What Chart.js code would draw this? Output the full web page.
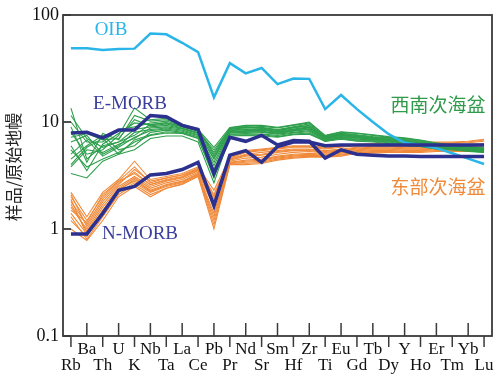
<!DOCTYPE html>
<html>
<head>
<meta charset="utf-8">
<script src="https://cdn.jsdelivr.net/npm/chart.js@4.4.1/dist/chart.umd.min.js"></script>
<style>
  html, body { margin: 0; padding: 0; background: #fff; }
  #wrap { width: 500px; height: 380px; }
</style>
</head>
<body>
<div id="wrap"><canvas id="spider" width="500" height="380"></canvas></div>
<script>
// element order on the x axis
const elements = ['Rb', 'Ba', 'Th', 'U', 'K', 'Nb', 'Ta', 'La', 'Ce', 'Pb', 'Pr', 'Nd', 'Sr', 'Sm',
    'Hf', 'Zr', 'Ti', 'Eu', 'Gd', 'Tb', 'Dy', 'Y', 'Ho', 'Er', 'Tm', 'Yb', 'Lu'];
const yTicks = [0.1, 1, 10, 100];

// reference curves (sample / primitive mantle)
const oib = [49, 49, 47, 48, 48.5, 67, 66, 55, 45, 17, 35.5, 28.5, 32, 22.6, 25.5, 25.3, 13.2, 17.9,
    13.2, 10.0, 7.7, 6.4, 6.1, 5.7, 5.1, 4.55, 4.05];
const eMorb = [7.9, 8.0, 7.1, 8.4, 8.4, 11.5, 11.2, 9.3, 8.5, 3.3, 7.2, 6.6, 7.5, 6.1, 6.7, 6.6, 4.6, 5.5,
    5.0, 4.9, 4.8, 4.8, 4.75, 4.75, 4.75, 4.75, 4.75];
const nMorb = [0.9, 0.9, 1.4, 2.3, 2.5, 3.2, 3.3, 3.6, 4.2, 1.65, 4.9, 5.4, 4.2, 5.9, 6.5, 6.5, 6.0, 6.1,
    6.1, 6.1, 6.1, 6.1, 6.1, 6.1, 6.1, 6.1, 6.1];

// 西南次海盆 samples
const westSamples = [
    [13.5, 4.5, 6.0, 6.5, 7.5, 9.5, 9.8, 9.0, 8.2, 5.5, 8.6, 8.8, 8.9, 8.5, 9.0, 9.6, 7.2, 7.8, 7.5, 7.2, 7.0, 6.8, 6.5, 6.2, 5.9, 5.8, 5.6],
    [3.3, 3.0, 4.3, 5.0, 5.5, 7.0, 7.4, 7.4, 6.5, 2.7, 7.4, 7.5, 7.4, 7.2, 7.6, 7.7, 6.6, 6.9, 6.6, 6.5, 6.3, 6.0, 5.9, 5.6, 5.5, 5.3, 5.2],
    [8.0, 5.0, 5.5, 7.5, 13.5, 10.5, 10.8, 9.5, 8.6, 5.0, 8.8, 9.2, 9.1, 8.8, 9.3, 9.8, 7.4, 8.0, 7.8, 7.5, 7.2, 7.0, 6.7, 6.3, 6.0, 5.9, 5.7],
    [6.5, 7.5, 5.0, 6.0, 8.0, 8.5, 8.8, 8.4, 7.6, 4.2, 8.2, 8.3, 8.4, 8.0, 8.4, 8.8, 7.0, 7.5, 7.2, 7.0, 6.8, 6.5, 6.3, 6.0, 5.8, 5.6, 5.5],
    [4.5, 6.0, 7.5, 5.5, 6.0, 8.0, 8.4, 8.0, 7.3, 3.6, 7.9, 8.0, 8.1, 7.8, 8.2, 8.5, 6.9, 7.3, 7.0, 6.9, 6.6, 6.4, 6.2, 5.9, 5.7, 5.6, 5.4],
    [10.0, 6.5, 6.5, 8.5, 9.0, 9.8, 10.2, 9.2, 8.4, 4.8, 8.5, 8.9, 8.7, 8.3, 8.8, 9.2, 7.3, 7.6, 7.4, 7.1, 6.9, 6.7, 6.4, 6.1, 5.9, 5.7, 5.6],
    [5.5, 3.8, 4.5, 5.2, 6.5, 7.5, 7.9, 7.8, 7.0, 3.2, 7.7, 7.8, 7.7, 7.5, 7.9, 8.1, 6.7, 7.1, 6.8, 6.7, 6.5, 6.2, 6.0, 5.7, 5.6, 5.4, 5.3],
    [7.2, 7.8, 6.8, 7.0, 10.5, 9.2, 9.6, 8.8, 8.0, 4.5, 8.4, 8.6, 8.5, 8.2, 8.6, 9.0, 7.1, 7.7, 7.3, 7.1, 6.9, 6.6, 6.4, 6.1, 5.8, 5.7, 5.5],
    [3.8, 5.5, 5.2, 6.2, 7.0, 8.8, 9.0, 8.6, 7.8, 3.9, 8.1, 8.2, 8.2, 7.9, 8.3, 8.6, 6.9, 7.4, 7.1, 6.9, 6.7, 6.4, 6.2, 5.9, 5.7, 5.6, 5.4],
    [9.0, 4.2, 7.8, 6.8, 11.5, 10.2, 10.5, 9.4, 8.5, 5.8, 8.9, 9.3, 9.3, 8.9, 9.4, 10.0, 7.5, 8.1, 7.9, 7.6, 7.3, 7.1, 6.8, 6.4, 6.1, 5.9, 5.7],
    [5.0, 6.8, 4.8, 5.8, 7.2, 8.3, 8.6, 8.2, 7.5, 3.4, 8.0, 8.1, 8.0, 7.7, 8.0, 8.3, 6.8, 7.2, 6.9, 6.8, 6.6, 6.3, 6.1, 5.8, 5.6, 5.5, 5.3],
    [6.0, 3.5, 6.2, 7.8, 9.8, 9.4, 9.9, 9.1, 8.3, 5.2, 8.7, 9.0, 8.8, 8.4, 8.9, 9.3, 7.3, 7.9, 7.6, 7.3, 7.1, 6.9, 6.6, 6.2, 6.0, 5.8, 5.6],
    [4.0, 5.8, 7.0, 5.0, 6.8, 7.6, 8.1, 7.9, 7.1, 3.0, 7.6, 7.6, 7.6, 7.3, 7.7, 7.9, 6.6, 7.0, 6.7, 6.6, 6.4, 6.1, 5.9, 5.6, 5.5, 5.4, 5.2],
    [11.5, 7.0, 5.8, 6.5, 8.5, 9.0, 9.3, 8.7, 7.9, 4.6, 8.3, 8.5, 8.6, 8.1, 8.5, 8.9, 7.1, 7.6, 7.3, 7.0, 6.8, 6.6, 6.3, 6.0, 5.8, 5.7, 5.5]
];

// 东部次海盆 samples
const eastSamples = [
    [2.2, 1.3, 2.2, 2.9, 4.3, 2.9, 3.1, 3.3, 3.8, 2.3, 4.7, 5.4, 5.6, 5.8, 6.0, 6.0, 5.8, 6.0, 6.2, 6.3, 6.3, 6.3, 6.4, 6.5, 6.5, 6.6, 6.9],
    [1.0, 0.78, 1.2, 2.0, 2.5, 2.0, 2.4, 2.6, 3.1, 1.0, 4.0, 4.0, 4.1, 4.4, 4.6, 4.7, 4.7, 4.8, 5.1, 5.1, 5.2, 5.2, 5.2, 5.3, 5.3, 5.3, 5.3],
    [1.8, 1.1, 1.9, 2.7, 3.4, 2.6, 2.9, 3.1, 3.6, 1.9, 4.5, 5.0, 5.2, 5.4, 5.6, 5.6, 5.4, 5.6, 5.8, 5.9, 5.9, 5.9, 6.0, 6.1, 6.1, 6.2, 6.3],
    [1.4, 0.9, 1.5, 2.3, 2.9, 2.3, 2.6, 2.8, 3.3, 1.4, 4.2, 4.4, 4.5, 4.8, 5.0, 5.1, 5.0, 5.2, 5.4, 5.5, 5.5, 5.6, 5.6, 5.7, 5.7, 5.8, 5.8],
    [2.0, 1.2, 2.0, 2.8, 3.8, 2.7, 3.0, 3.2, 3.7, 2.1, 4.6, 5.2, 5.4, 5.6, 5.8, 5.8, 5.6, 5.8, 6.0, 6.1, 6.1, 6.1, 6.2, 6.3, 6.3, 6.4, 6.6],
    [1.2, 0.85, 1.4, 2.2, 2.7, 2.2, 2.5, 2.7, 3.2, 1.2, 4.1, 4.2, 4.3, 4.6, 4.8, 4.9, 4.8, 5.0, 5.2, 5.3, 5.3, 5.4, 5.4, 5.5, 5.5, 5.5, 5.6],
    [1.6, 1.0, 1.7, 2.5, 3.1, 2.5, 2.8, 3.0, 3.5, 1.7, 4.4, 4.8, 4.9, 5.2, 5.4, 5.4, 5.2, 5.4, 5.6, 5.7, 5.7, 5.8, 5.8, 5.9, 5.9, 6.0, 6.1],
    [2.1, 1.05, 1.8, 2.6, 3.6, 2.8, 3.0, 3.2, 3.6, 2.0, 4.6, 5.3, 5.5, 5.7, 5.9, 5.9, 5.7, 5.9, 6.1, 6.2, 6.2, 6.2, 6.3, 6.4, 6.4, 6.5, 6.8],
    [1.3, 0.8, 1.3, 2.1, 2.6, 2.1, 2.4, 2.65, 3.15, 1.1, 4.05, 4.1, 4.2, 4.5, 4.7, 4.8, 4.75, 4.9, 5.15, 5.2, 5.25, 5.3, 5.3, 5.4, 5.4, 5.4, 5.5],
    [1.7, 0.95, 1.6, 2.4, 3.0, 2.4, 2.7, 2.9, 3.4, 1.6, 4.3, 4.6, 4.7, 5.0, 5.2, 5.3, 5.1, 5.3, 5.5, 5.6, 5.6, 5.7, 5.7, 5.8, 5.8, 5.9, 6.0],
    [1.5, 1.15, 2.1, 2.8, 3.3, 2.6, 2.85, 3.05, 3.55, 1.8, 4.5, 4.9, 5.0, 5.3, 5.5, 5.5, 5.3, 5.5, 5.7, 5.8, 5.8, 5.9, 5.9, 6.0, 6.0, 6.1, 6.2],
    [1.9, 0.88, 1.45, 2.35, 2.8, 2.25, 2.55, 2.75, 3.25, 1.3, 4.15, 4.3, 4.4, 4.7, 4.9, 5.0, 4.9, 5.1, 5.3, 5.4, 5.4, 5.5, 5.5, 5.6, 5.6, 5.7, 5.7]
];

const serif = '"Liberation Serif", "DejaVu Serif", serif';
const cjk = '"Noto Sans CJK SC", sans-serif';

function line(data, color, width, order) {
    return {
        data: data,
        borderColor: color,
        borderWidth: width,
        pointRadius: 0,
        tension: 0,
        fill: false,
        order: order
    };
}

const datasets = [];
datasets.push(line(eMorb, '#2c3190', 3.5, 0));
datasets.push(line(nMorb, '#2c3190', 3.5, 0));
datasets.push(line(oib, '#2ab5e8', 2.5, 1));
westSamples.forEach(function (s) { datasets.push(line(s, '#2e9f4c', 1.1, 2)); });
eastSamples.forEach(function (s) { datasets.push(line(s, '#f08a3a', 1.1, 3)); });

// frame, alternating element ticks, labels
const decor = {
    id: 'decor',
    afterDraw: function (chart) {
        const ctx = chart.ctx;
        const a = chart.chartArea;
        const xs = chart.scales.x;
        const ys = chart.scales.y;
        ctx.save();
        ctx.strokeStyle = '#3a3a3a';
        ctx.lineWidth = 1.8;
        ctx.strokeRect(a.left, a.top, a.right - a.left, a.bottom - a.top);

        // y ticks
        ctx.fillStyle = '#111';
        ctx.font = '18px ' + serif;
        ctx.textAlign = 'right';
        ctx.textBaseline = 'middle';
        yTicks.forEach(function (v) {
            const y = ys.getPixelForValue(v);
            ctx.beginPath();
            ctx.moveTo(a.left, y);
            ctx.lineTo(a.left + 8, y);
            ctx.stroke();
            ctx.fillText(String(v), a.left - 4, y);
        });

        // x ticks, two rows
        ctx.font = '17px ' + serif;
        ctx.textAlign = 'center';
        ctx.lineWidth = 1.5;
        elements.forEach(function (el, i) {
            const x = xs.getPixelForValue(i);
            ctx.beginPath();
            if (i % 2 === 1) {
                ctx.moveTo(x, a.bottom);
                ctx.lineTo(x, a.bottom - 13);
                ctx.stroke();
                ctx.fillText(el, x, a.bottom + 14);
            } else {
                ctx.moveTo(x, a.bottom);
                ctx.lineTo(x, a.bottom + 11);
                ctx.stroke();
                ctx.fillText(el, x, a.bottom + 30);
            }
        });

        // curve labels
        ctx.font = '19px ' + serif;
        ctx.fillStyle = '#2ab5e8';
        ctx.fillText('OIB', 111, 30);
        ctx.fillStyle = '#3b3f9c';
        ctx.fillText('E-MORB', 130, 104);
        ctx.fillText('N-MORB', 140, 234);
        ctx.font = '19px ' + cjk;
        ctx.fillStyle = '#2e9a4a';
        ctx.fillText('西南次海盆', 438, 105);
        ctx.fillStyle = '#ef8a3a';
        ctx.fillText('东部次海盆', 438, 187);

        // y title
        ctx.translate(14, 167);
        ctx.rotate(-Math.PI / 2);
        ctx.fillStyle = '#222';
        ctx.font = '17px ' + cjk;
        ctx.fillText('样品/原始地幔', 0, 0);
        ctx.restore();
    }
};

new Chart(document.getElementById('spider'), {
    type: 'line',
    data: { labels: elements, datasets: datasets },
    options: {
        responsive: false,
        devicePixelRatio: 1,
        animation: false,
        layout: { padding: { left: 63, top: 15, right: 8, bottom: 44 } },
        plugins: { legend: { display: false }, tooltip: { enabled: false } },
        scales: {
            x: { type: 'category', offset: true, display: false },
            y: { type: 'logarithmic', min: 0.1, max: 100, display: false }
        }
    },
    plugins: [decor]
});
</script>
</body>
</html>
